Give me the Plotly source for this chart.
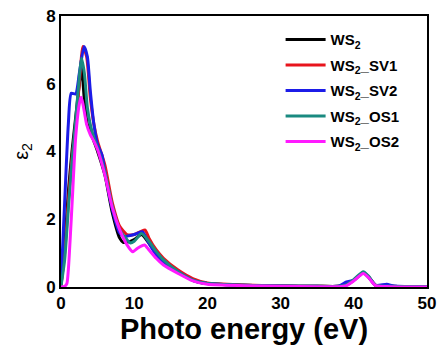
import plotly.graph_objects as go

names = ["WS<sub>2</sub>", "WS<sub>2</sub>_SV1", "WS<sub>2</sub>_SV2", "WS<sub>2</sub>_OS1", "WS<sub>2</sub>_OS2"]
colors = ["#000000", "#e8141c", "#1c1ce8", "#1a8a80", "#ff1aff"]

ws2_x = [0, 0.5, 1, 1.5, 2, 2.5, 2.8, 3.2, 3.6, 4, 4.5, 5, 6, 7, 8, 8.5, 9, 10, 11, 12, 13, 14, 16, 18, 20, 25, 30, 35, 38, 39, 40, 41.3, 42, 43, 45, 50]
ws2_y = [0.05, 1.2, 2.8, 4.0, 5.0, 6.0, 6.5, 5.5, 4.8, 4.6, 4.3, 4.0, 3.3, 2.2, 1.45, 1.32, 1.32, 1.4, 1.55, 1.3, 1.0, 0.75, 0.45, 0.2, 0.1, 0.05, 0.03, 0.02, 0.02, 0.06, 0.2, 0.43, 0.3, 0.05, 0.02, 0.01]

sv1_x = [0, 0.5, 1, 1.5, 2, 2.5, 3, 3.5, 4, 4.5, 5, 6, 7, 8, 9, 10, 11, 11.5, 12, 13, 14, 16, 18, 20, 25, 30, 35, 38, 39, 40, 41.3, 42, 43, 45, 50]
sv1_y = [0.05, 1.0, 2.5, 3.8, 4.7, 6.0, 7.1, 6.8, 5.6, 4.8, 4.3, 3.6, 2.5, 1.8, 1.55, 1.55, 1.65, 1.68, 1.45, 1.1, 0.85, 0.5, 0.25, 0.12, 0.06, 0.03, 0.02, 0.02, 0.06, 0.2, 0.42, 0.3, 0.05, 0.02, 0.01]

sv2_x = [0, 0.5, 1, 1.4, 2, 2.5, 3.15, 3.6, 4, 4.5, 5, 5.6, 6, 7, 8, 8.6, 9, 10, 11.1, 12, 13, 14, 16, 18, 20, 25, 30, 35, 38, 39, 40, 41.3, 42, 43, 44.5, 45.5, 50]
sv2_y = [0.1, 2.5, 4.8, 5.72, 5.7, 6.3, 7.1, 6.8, 5.8, 4.8, 4.2, 3.9, 3.4, 2.3, 1.6, 1.48, 1.5, 1.55, 1.63, 1.3, 0.95, 0.75, 0.45, 0.2, 0.1, 0.05, 0.03, 0.02, 0.03, 0.15, 0.2, 0.42, 0.3, 0.05, 0.08, 0.03, 0.01]

os1_x = [0, 0.5, 1, 1.5, 2, 2.5, 2.8, 3.2, 3.6, 4, 4.5, 5, 6, 7, 8, 9, 9.5, 10, 11, 12, 13, 14, 16, 18, 20, 25, 30, 35, 38, 39, 40, 41.3, 42, 43, 45, 50]
os1_y = [0.02, 0.8, 2.3, 3.7, 4.9, 6.2, 6.75, 6.3, 5.3, 4.8, 4.4, 4.1, 3.4, 2.4, 1.7, 1.4, 1.3, 1.35, 1.58, 1.35, 1.05, 0.8, 0.45, 0.2, 0.1, 0.05, 0.03, 0.02, 0.02, 0.06, 0.22, 0.45, 0.32, 0.05, 0.02, 0.01]

os2_x = [0, 0.5, 0.8, 1, 1.5, 2, 2.5, 2.75, 3, 3.5, 4, 4.5, 5, 6, 7, 8, 9, 9.8, 10.5, 11.4, 12, 13, 14, 16, 18, 20, 25, 30, 35, 38, 39, 40, 41.3, 42, 43, 45, 50]
os2_y = [0.0, 0.02, 0.1, 0.5, 2.4, 4.4, 5.4, 5.6, 5.4, 4.8, 4.5, 4.3, 4.05, 3.3, 2.35, 1.7, 1.25, 1.04, 1.15, 1.24, 1.1, 0.85, 0.65, 0.4, 0.18, 0.08, 0.04, 0.02, 0.01, 0.01, 0.04, 0.18, 0.4, 0.28, 0.04, 0.01, 0.0]

series_x = [ws2_x, sv1_x, sv2_x, os1_x, os2_x]
series_y = [ws2_y, sv1_y, sv2_y, os1_y, os2_y]

x_ticks = [0, 10, 20, 30, 40, 50]
y_ticks = [0, 2, 4, 6, 8]

fig = go.Figure()
for i, (nm, c, xs, ys) in enumerate(zip(names, colors, series_x, series_y)):
    fig.add_trace(go.Scatter(x=xs, y=ys, mode="lines", name=nm, legendgroup=str(i),
                             line=dict(color=c, width=3, shape="spline", smoothing=0.6)))

font_family = "Liberation Sans, Arial, sans-serif"
fig.update_layout(
    width=440, height=348,
    margin=dict(l=61, r=13, t=16, b=61, autoexpand=False),
    paper_bgcolor="white", plot_bgcolor="white",
    font=dict(family=font_family, color="black"),
    showlegend=True,
    legend=dict(x=0.6, y=0.973, xanchor="left", yanchor="top", bgcolor="rgba(0,0,0,0)",
                font=dict(size=15, family=font_family, color="black", weight="bold"),
                tracegroupgap=3, itemwidth=40),
    xaxis=dict(range=[0, 50], tickvals=x_ticks, showgrid=False, zeroline=False,
               showline=True, linecolor="black", linewidth=2, mirror=True, ticks="",
               automargin=False,
               tickfont=dict(size=17, weight="bold"),
               title=dict(text="Photo energy (eV)", font=dict(size=29, weight="bold"), standoff=4)),
    yaxis=dict(range=[0, 8], tickvals=y_ticks, showgrid=False, zeroline=False,
               showline=True, linecolor="black", linewidth=2, mirror=True, ticks="",
               automargin=False,
               tickfont=dict(size=17, weight="bold"),
               title=dict(text="ε<sub>2</sub>", font=dict(size=20), standoff=12)),
)

fig.write_html("out.html")
